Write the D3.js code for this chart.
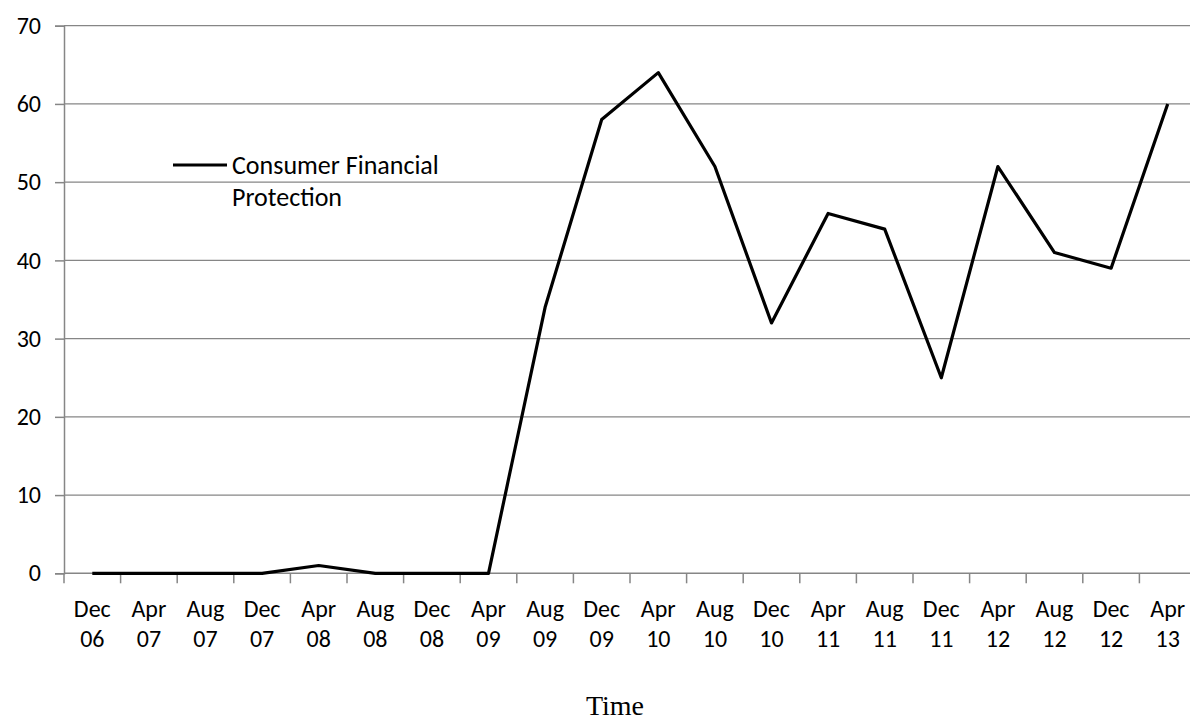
<!DOCTYPE html>
<html>
<head>
<meta charset="utf-8">
<script src="https://cdn.jsdelivr.net/npm/d3@7"></script>
<style>
  body { margin: 0; background: #fff; }
  text { font-family: Calibri, Carlito, "Liberation Sans", Arial, sans-serif; }
</style>
</head>
<body>
<div id="chart"></div>
<script>
// chart data
const months = ["Dec", "Apr", "Aug", "Dec", "Apr", "Aug", "Dec", "Apr", "Aug", "Dec",
  "Apr", "Aug", "Dec", "Apr", "Aug", "Dec", "Apr", "Aug", "Dec", "Apr"];
const years = ["06", "07", "07", "07", "08", "08", "08", "09", "09", "09",
  "10", "10", "10", "11", "11", "11", "12", "12", "12", "13"];
const values = [0, 0, 0, 0, 1, 0, 0, 0, 34, 58, 64, 52, 32, 46, 44, 25, 52, 41, 39, 60];
const yTicks = [0, 10, 20, 30, 40, 50, 60, 70];
const seriesName = ["Consumer Financial", "Protection"];

const svgWidth = 1190;
const svgHeight = 722;

const margin = { top: 25.7, left: 64, right: -6, bottom: 148.7 };
const width = svgWidth - margin.left - margin.right;
const height = svgHeight - margin.top - margin.bottom;

const svg = d3.select("#chart")
  .append("svg")
  .attr("width", svgWidth)
  .attr("height", svgHeight);

const chartGroup = svg.append("g")
  .attr("transform", `translate(${margin.left}, ${margin.top})`);

const idx = d3.range(values.length);

const xScale = d3.scaleBand()
  .domain(idx)
  .range([0, width]);

const yScale = d3.scaleLinear()
  .domain([0, 70])
  .range([height, 0]);

const gridColor = "#868686";

// horizontal gridlines
chartGroup.append("g")
  .selectAll("line")
  .data(yTicks.slice(1))
  .enter()
  .append("line")
  .attr("x1", 0)
  .attr("x2", width)
  .attr("y1", d => yScale(d))
  .attr("y2", d => yScale(d))
  .attr("stroke", gridColor)
  .attr("stroke-width", 1.2);

// y axis
const leftAxis = d3.axisLeft(yScale)
  .tickValues(yTicks)
  .tickSize(9)
  .tickPadding(14);

const yAxis = chartGroup.append("g").call(leftAxis);
yAxis.select(".domain").attr("stroke", gridColor).attr("stroke-width", 1.5);
yAxis.selectAll(".tick line").attr("stroke", gridColor).attr("stroke-width", 1.5);
yAxis.selectAll(".tick text")
  .attr("font-size", "24px")
  .attr("fill", "#000")
  .attr("font-family", null);

// x axis: ticks sit between categories
const xAxis = chartGroup.append("g")
  .attr("transform", `translate(0, ${height})`);

xAxis.append("line")
  .attr("x1", 0)
  .attr("x2", width)
  .attr("stroke", gridColor)
  .attr("stroke-width", 1.5);

xAxis.selectAll(".xtick")
  .data(idx)
  .enter()
  .append("line")
  .attr("class", "xtick")
  .attr("x1", d => xScale(d))
  .attr("x2", d => xScale(d))
  .attr("y1", 0)
  .attr("y2", 10)
  .attr("stroke", gridColor)
  .attr("stroke-width", 1.5);

const xLabels = xAxis.selectAll(".xlabel")
  .data(idx)
  .enter()
  .append("text")
  .attr("class", "xlabel")
  .attr("text-anchor", "middle")
  .attr("font-size", "24px")
  .attr("fill", "#000");

xLabels.append("tspan")
  .attr("x", d => xScale(d) + xScale.bandwidth() / 2)
  .attr("y", 44)
  .text(d => months[d]);

xLabels.append("tspan")
  .attr("x", d => xScale(d) + xScale.bandwidth() / 2)
  .attr("y", 74)
  .text(d => years[d]);

// axis title
svg.append("text")
  .attr("x", 615)
  .attr("y", 715)
  .attr("text-anchor", "middle")
  .attr("font-size", "28px")
  .style("font-family", "'Times New Roman', 'Liberation Serif', serif")
  .text("Time");

// series line
const line = d3.line()
  .x((d, i) => xScale(i) + xScale.bandwidth() / 2)
  .y(d => yScale(d));

chartGroup.append("path")
  .datum(values)
  .attr("d", line)
  .attr("fill", "none")
  .attr("stroke", "#000")
  .attr("stroke-width", 3.2)
  .attr("stroke-linejoin", "round");

// legend
const legend = svg.append("g")
  .attr("transform", "translate(173, 165)");

legend.append("line")
  .attr("x1", 0)
  .attr("x2", 54)
  .attr("y1", 0)
  .attr("y2", 0)
  .attr("stroke", "#000")
  .attr("stroke-width", 3.2);

legend.selectAll("text")
  .data(seriesName)
  .enter()
  .append("text")
  .attr("x", 59)
  .attr("y", (d, i) => 9 + i * 32)
  .attr("font-size", "26px")
  .attr("fill", "#000")
  .text(d => d);
</script>
</body>
</html>
